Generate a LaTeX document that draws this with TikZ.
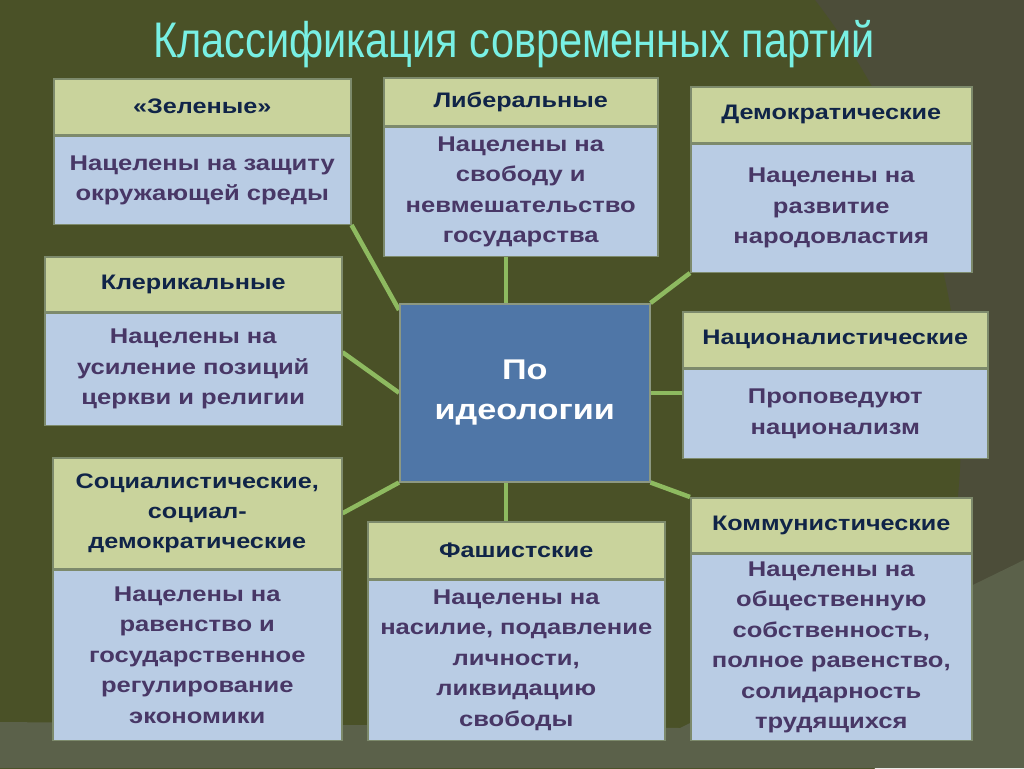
\documentclass[tikz,border=0pt]{standalone}
\usepackage{fontspec}
\usetikzlibrary{backgrounds}
\setmainfont{Liberation Sans}
\newfontfamily\wideface[FakeStretch=1.2]{Liberation Sans}
\newfontfamily\titleface[FakeStretch=0.83]{Liberation Sans}
\definecolor{olive}{RGB}{74,81,39}
\definecolor{outergrey}{RGB}{76,77,57}
\definecolor{lowband}{RGB}{91,97,74}
\definecolor{headfill}{RGB}{201,211,156}
\definecolor{bodyfill}{RGB}{185,204,228}
\definecolor{boxline}{RGB}{125,138,108}
\definecolor{hubfill}{RGB}{79,118,167}
\definecolor{hubline}{RGB}{140,152,130}
\definecolor{linkgreen}{RGB}{142,186,96}
\definecolor{headtext}{RGB}{16,36,72}
\definecolor{bodytext}{RGB}{72,55,102}
\definecolor{titletext}{RGB}{120,240,228}
\begin{document}
\begin{tikzpicture}[x=1pt,y=-1pt,
  head/.style={draw=boxline, line width=1.5pt, fill=headfill, text=headtext, inner sep=0pt,
    anchor=north west, align=center, font=\wideface\bfseries\fontsize{21}{30}\selectfont},
  body/.style={draw=boxline, line width=1.5pt, fill=bodyfill, text=bodytext, inner sep=0pt,
    anchor=north west, align=center, font=\wideface\bfseries\fontsize{21.3}{30.5}\selectfont},
  hub/.style={draw=hubline, line width=1.5pt, fill=hubfill, text=white, inner sep=0pt,
    anchor=north west, align=center, font=\wideface\bfseries\fontsize{28.5}{40}\selectfont},
  link/.style={draw=linkgreen, line width=4.5pt}]
\useasboundingbox (0,0) rectangle (1024,768);
\node[anchor=base, text=titletext, font=\titleface\fontsize{50}{54}\selectfont] (title) at (514,57)
  {Классификация современных партий};
% hub
\node[hub, text width=250pt, minimum height=178pt] (hub) at (399,303) {По\\идеологии};
% parties: header + body
\node[head, text width=297pt, minimum height=56pt] (greenH) at (53,78) {«Зеленые»};
\node[body, text width=297pt, minimum height=88pt] (greenB) at (greenH.south west)
  {Нацелены на защиту\\окружающей среды};
\node[head, text width=274pt, minimum height=48pt] (libH) at (383,77) {Либеральные};
\node[body, text width=274pt, minimum height=129pt] (libB) at (libH.south west)
  {Нацелены на\\свободу и\\невмешательство\\государства};
\node[head, text width=281pt, minimum height=56pt] (demH) at (690,86) {Демократические};
\node[body, text width=281pt, minimum height=128pt] (demB) at (demH.south west)
  {Нацелены на\\развитие\\народовластия};
\node[head, text width=297pt, minimum height=55pt] (clerH) at (44,256) {Клерикальные};
\node[body, text width=297pt, minimum height=112pt] (clerB) at (clerH.south west)
  {Нацелены на\\усиление позиций\\церкви и религии};
\node[head, text width=305pt, minimum height=56pt] (natH) at (682,311) {Националистические};
\node[body, text width=305pt, minimum height=89pt] (natB) at (natH.south west)
  {Проповедуют\\национализм};
\node[head, text width=289pt, minimum height=111pt] (socH) at (52,457)
  {Социалистические,\\социал-\\демократические};
\node[body, text width=289pt, minimum height=170pt] (socB) at (socH.south west)
  {Нацелены на\\равенство и\\государственное\\регулирование\\экономики};
\node[head, text width=297pt, minimum height=57pt] (fascH) at (367,521) {Фашистские};
\node[body, text width=297pt, minimum height=160pt] (fascB) at (fascH.south west)
  {Нацелены на\\насилие, подавление\\личности,\\ликвидацию\\свободы};
\node[head, text width=281pt, minimum height=55pt] (commH) at (690,497) {Коммунистические};
\node[body, text width=281pt, minimum height=186pt] (commB) at (commH.south west)
  {Нацелены на\\общественную\\собственность,\\полное равенство,\\солидарность\\трудящихся};
\begin{scope}[on background layer]
% background
\fill[outergrey] (0,0) rectangle (1024,768);
\fill[olive] (255,430) circle [radius=706];
\fill[lowband] (0,722) -- (680,728) -- (1024,560) -- (1024,768) -- (0,768) -- cycle;
% links
\coordinate (hubN) at ([xshift=-19pt]hub.north);
\coordinate (hubS) at ([xshift=-19pt]hub.south);
\draw[link] (greenB.south east) -- ([yshift=-7pt]hub.north west);
\draw[link] (hubN |- libB.south) -- (hubN);
\draw[link] (demB.south west) -- (hub.north east);
\draw[link] ([yshift=17pt]clerB.east) -- (hub.west);
\draw[link] (hub.east) -- (hub.east -| natB.west);
\draw[link] (socH.east) -- (hub.south west);
\draw[link] (hubS) -- (hubS |- fascH.north);
\draw[link] (hub.south east) -- (commH.north west);
\end{scope}
\end{tikzpicture}
\end{document}
